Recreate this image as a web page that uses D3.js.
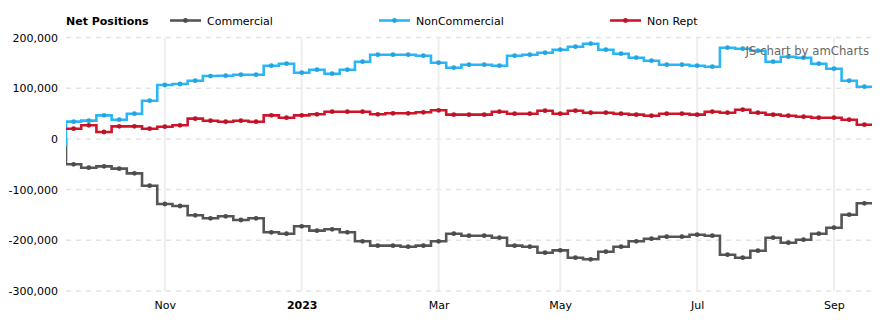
<!DOCTYPE html>
<html>
<head>
<meta charset="utf-8">
<script src="https://cdn.jsdelivr.net/npm/d3@7"></script>
<style>
  html, body { margin: 0; padding: 0; background: #fff; }
  svg { display: block; font-family: "DejaVu Sans", Verdana, sans-serif; }
</style>
</head>
<body>
<svg id="chart" width="886" height="326"></svg>
<script>
// ---- data (weekly report dates; the first one is only partly visible at the left edge) ----
const dates = [
  "2022-09-13","2022-09-20","2022-09-27","2022-10-04","2022-10-11","2022-10-18","2022-10-25",
  "2022-11-01","2022-11-08","2022-11-15","2022-11-22","2022-11-29","2022-12-06","2022-12-13",
  "2022-12-20","2022-12-27","2023-01-03","2023-01-10","2023-01-17","2023-01-24","2023-01-31",
  "2023-02-07","2023-02-14","2023-02-21","2023-02-28","2023-03-07","2023-03-14","2023-03-21",
  "2023-03-28","2023-04-04","2023-04-11","2023-04-18","2023-04-25","2023-05-02","2023-05-09",
  "2023-05-16","2023-05-23","2023-05-30","2023-06-06","2023-06-13","2023-06-20","2023-06-27",
  "2023-07-04","2023-07-11","2023-07-18","2023-07-25","2023-08-01","2023-08-08","2023-08-15",
  "2023-08-22","2023-08-29","2023-09-05","2023-09-12","2023-09-19"
];
const commercial = [
  -2000,
  -50100,-56800,-54100,-58700,-67900,-92300,-128400,-132300,-150700,-156600,
  -152700,-160000,-156600,-184200,-187000,-172400,-181000,-178300,-184200,-202000,
  -210600,-210600,-212600,-210600,-202000,-187000,-190900,-190900,-194900,-210600,
  -212600,-224500,-219800,-234300,-237500,-222500,-212600,-202000,-196800,-192900,
  -192900,-189000,-190900,-228400,-234300,-220500,-194900,-204700,-198800,-187000,
  -175100,-149500,-127000
];
const nonCommercial = [
  -12000,
  34000,36000,46500,37900,49700,75300,106300,108300,114800,124000,
  124700,126600,126600,144400,148300,130600,136500,128600,136500,152300,
  166100,166100,166100,164100,150300,140400,146400,146400,144400,164100,
  166100,170000,175900,181900,187800,175900,168000,160200,154200,146400,
  146400,144400,142400,179900,177900,174000,152300,162100,160200,148300,
  138500,114800,103000
];
const nonRept = [
  20000,
  20100,26800,13600,24800,24800,20100,24100,26800,39900,35900,
  33900,35900,33900,46500,41800,46500,48500,53600,53600,53600,
  48500,50500,50500,52500,56400,47800,47800,47800,53600,49700,
  49700,55600,49700,55600,51700,51700,49700,47800,45800,49700,
  49700,47800,53600,51700,57600,51700,47800,45800,43800,41800,
  41800,37900,28000
];
const seriesNames = ["Commercial", "NonCommercial", "Non Rept"];
const seriesColors = ["#555555", "#29b6f6", "#d0152b"];
const yTicks = [200000, 100000, 0, -100000, -200000, -300000];
const xTickDates = ["2022-11-01","2023-01-03","2023-03-07","2023-05-02","2023-07-04","2023-09-05"];
const xTickLabels = ["Nov","2023","Mar","May","Jul","Sep"];
const legendTitle = "Net Positions";

// ---- layout ----
const svg = d3.select("#chart");
const plot = { left: 66, right: 872, top: 37.5, bottom: 291 };
const parse = d3.utcParse("%Y-%m-%d");
const parsedDates = dates.map(parse);
const halfStep = 3.5 * 864e5;

const x = d3.scaleUtc()
  .domain([new Date(Date.UTC(2022, 8, 16, 12)), new Date(Date.UTC(2023, 8, 22, 12))])
  .range([plot.left, plot.right]);
const y = d3.scaleLinear().domain([-300000, 200000]).range([plot.bottom, plot.top]);

svg.append("defs").append("clipPath").attr("id", "clip")
  .append("rect").attr("x", plot.left).attr("y", 0)
  .attr("width", plot.right - plot.left).attr("height", 326);

// horizontal dashed grid
svg.append("g").selectAll("line").data(yTicks).join("line")
  .attr("x1", plot.left).attr("x2", plot.right)
  .attr("y1", d => y(d)).attr("y2", d => y(d))
  .attr("stroke", "#e3e3e3").attr("stroke-width", 1.5).attr("stroke-dasharray", "5,5");

// vertical grid
const xTicks = xTickDates.map(parse);
svg.append("g").selectAll("line").data(xTicks).join("line")
  .attr("x1", d => x(d)).attr("x2", d => x(d))
  .attr("y1", plot.top).attr("y2", plot.bottom)
  .attr("stroke", "#eeeeee").attr("stroke-width", 2);

// y axis
const yAxis = d3.axisLeft(y).tickValues(yTicks).tickSize(0).tickPadding(0)
  .tickFormat(d => d3.format(",")(d).replace("\u2212", "-"));
const gy = svg.append("g").attr("transform", `translate(${plot.left - 8},0)`).call(yAxis);
gy.select(".domain").remove();
gy.selectAll("text").attr("font-size", 11).attr("fill", "#000")
  .attr("font-family", "DejaVu Sans, Verdana, sans-serif");

// x axis
const xAxis = d3.axisBottom(x).tickValues(xTicks).tickSize(0).tickPadding(0)
  .tickFormat((d, i) => xTickLabels[i]);
const gx = svg.append("g").attr("transform", `translate(0,${plot.bottom + 10})`).call(xAxis);
gx.select(".domain").remove();
gx.selectAll("text").attr("font-size", 11).attr("fill", "#000")
  .attr("font-family", "DejaVu Sans, Verdana, sans-serif")
  .attr("font-weight", (d, i) => xTickLabels[i] === "2023" ? "bold" : "normal");

// series
const allSeries = [commercial, nonCommercial, nonRept];
const line = d3.line().x(d => d[0]).y(d => d[1]).curve(d3.curveStepAfter);
const gSeries = svg.append("g").attr("clip-path", "url(#clip)");
allSeries.forEach((vals, s) => {
  const pts = vals.map((v, i) => [x(new Date(+parsedDates[i] - halfStep)), y(v)]);
  const last = vals.length - 1;
  pts.push([x(new Date(+parsedDates[last] + halfStep)), y(vals[last])]);
  gSeries.append("path").attr("d", line(pts))
    .attr("fill", "none").attr("stroke", seriesColors[s])
    .attr("stroke-width", 2.6).attr("stroke-linejoin", "miter");
  gSeries.append("g").selectAll("circle").data(vals).join("circle")
    .attr("cx", (v, i) => x(parsedDates[i])).attr("cy", v => y(v))
    .attr("r", 2.4).attr("fill", d3.color(seriesColors[s]).darker(0.3));
});

// legend
const legend = svg.append("g").attr("font-size", 11).attr("fill", "#000");
legend.append("text").attr("x", 66).attr("y", 24.5).attr("font-weight", "bold").text(legendTitle);
const legendX = [170, 379, 610];
seriesNames.forEach((name, s) => {
  const lx = legendX[s];
  legend.append("line").attr("x1", lx).attr("x2", lx + 31).attr("y1", 20.5).attr("y2", 20.5)
    .attr("stroke", seriesColors[s]).attr("stroke-width", 2.6);
  legend.append("circle").attr("cx", lx + 15.5).attr("cy", 20.5).attr("r", 2.4)
    .attr("fill", d3.color(seriesColors[s]).darker(0.3));
  legend.append("text").attr("x", lx + 37).attr("y", 24.5).text(name);
});

// credit
svg.append("text").attr("x", 869).attr("y", 55).attr("text-anchor", "end")
  .attr("font-size", 11.7).attr("fill", "#666").text("JS chart by amCharts");
</script>
</body>
</html>
